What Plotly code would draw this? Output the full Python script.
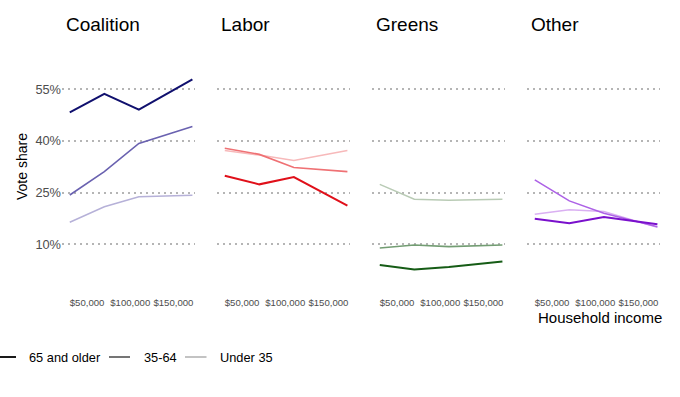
import plotly.graph_objects as go

# ---------------- data ----------------
income = [30000, 70000, 110000, 172000]
age_groups = ["65 and older", "35-64", "Under 35"]
parties = ["Coalition", "Labor", "Greens", "Other"]

coalition_65 = [48.3, 53.7, 49.1, 57.9]
coalition_35_64 = [24.3, 31.1, 39.3, 44.2]
coalition_u35 = [16.4, 20.9, 23.8, 24.2]

labor_65 = [29.9, 27.4, 29.5, 21.2]
labor_35_64 = [37.9, 36.1, 32.3, 31.1]
labor_u35 = [37.2, 35.9, 34.3, 37.2]

greens_65 = [4.0, 2.7, 3.4, 5.0]
greens_35_64 = [8.9, 9.8, 9.3, 9.8]
greens_u35 = [27.4, 23.1, 22.8, 23.1]

other_65 = [17.4, 16.1, 17.9, 15.8]
other_35_64 = [28.7, 22.6, 19.0, 15.1]
other_u35 = [18.7, 20.0, 19.5, 14.9]

y_tickvals = [10, 25, 40, 55]
y_ticktext = ["10%", "25%", "40%", "55%"]
x_tickvals = [50000, 100000, 150000]
x_ticktext = ["$50,000", "$100,000", "$150,000"]

series = {
    "Coalition": [coalition_65, coalition_35_64, coalition_u35],
    "Labor": [labor_65, labor_35_64, labor_u35],
    "Greens": [greens_65, greens_35_64, greens_u35],
    "Other": [other_65, other_35_64, other_u35],
}

# ---------------- styles ----------------
colors = {
    "Coalition": ["#10106e", "#6a62b0", "#b6b1d8"],
    "Labor": ["#e0101a", "#ef7174", "#f7b9ba"],
    "Greens": ["#165c16", "#739d73", "#b9cbb5"],
    "Other": ["#7a10cc", "#ad62e6", "#dab0f2"],
}
widths = [2.0, 1.6, 1.5]
FONT = "Liberation Sans, Arial, sans-serif"
W, H = 680, 397

panel_left = [62, 217, 372, 527]
panel_w = 133
y_top_px, y_bot_px = 65.2, 278.7
x_range = [21000, 175000]
y_range = [0, 62]

fig = go.Figure()
layout = dict(
    width=W, height=H,
    margin=dict(l=0, r=0, t=0, b=0),
    paper_bgcolor="white", plot_bgcolor="white",
    showlegend=False,
    font=dict(family=FONT, color="#000000"),
)

annotations = []
shapes = []

for i, party in enumerate(parties):
    n = "" if i == 0 else str(i + 1)
    xa, ya = "x" + n, "y" + n
    # draw lighter first so darker sits on top
    for k in [2, 1, 0]:
        fig.add_trace(go.Scatter(
            x=income, y=series[party][k], mode="lines",
            line=dict(color=colors[party][k], width=widths[k]),
            name=age_groups[k], xaxis=xa, yaxis=ya, hoverinfo="skip",
        ))
    x0 = panel_left[i] / W
    x1 = (panel_left[i] + panel_w) / W
    layout["xaxis" + n] = dict(
        domain=[x0, x1], range=x_range, anchor=ya,
        showgrid=False, zeroline=False, showline=False,
        tickmode="array", tickvals=x_tickvals, ticktext=x_ticktext,
        ticks="outside", ticklen=15, tickcolor="rgba(0,0,0,0)", tickangle=0,
        tickfont=dict(size=9.6, color="#4d4d4d", family=FONT),
        automargin=False,
    )
    layout["yaxis" + n] = dict(
        domain=[(H - y_bot_px) / H, (H - y_top_px) / H], range=y_range,
        anchor=xa,
        showgrid=True, gridcolor="#b5b5b5", gridwidth=1.5, griddash="1.5px,4.5px",
        zeroline=False, showline=False,
        tickmode="array", tickvals=y_tickvals, ticktext=y_ticktext,
        showticklabels=(i == 0),
        tickfont=dict(size=12.8, color="#4d4d4d", family=FONT),
        automargin=False,
    )
    annotations.append(dict(
        text=party, x=(panel_left[i] + 2) / W, y=(H - 25) / H,
        xref="paper", yref="paper", xanchor="left", yanchor="middle",
        showarrow=False, font=dict(size=19, color="#000000", family=FONT),
    ))

# axis titles
annotations.append(dict(
    text="Vote share", x=22 / W, y=(H - 167) / H, xref="paper", yref="paper",
    textangle=-90, xanchor="center", yanchor="middle", showarrow=False,
    font=dict(size=14, color="#000000", family=FONT),
))
annotations.append(dict(
    text="Household income", x=(panel_left[3] + panel_w / 2 + 6) / W, y=(H - 317) / H,
    xref="paper", yref="paper", xanchor="center", yanchor="middle",
    showarrow=False, font=dict(size=15, color="#000000", family=FONT),
))

# legend (drawn manually)
legend_colors = ["#000000", "#666666", "#bdbdbd"]
legend_line_x = [(-5, 16), (109, 130), (185, 206.5)]
legend_text_x = [27, 141.5, 218]
ly = (H - 357) / H
for k in range(3):
    shapes.append(dict(
        type="line", xref="paper", yref="paper",
        x0=legend_line_x[k][0] / W, x1=legend_line_x[k][1] / W, y0=ly, y1=ly,
        line=dict(color=legend_colors[k], width=1.8),
    ))
    annotations.append(dict(
        text=age_groups[k], x=legend_text_x[k] / W, y=ly, xref="paper", yref="paper",
        xanchor="left", yanchor="middle", showarrow=False,
        font=dict(size=12.8, color="#000000", family=FONT),
    ))

layout["annotations"] = annotations
layout["shapes"] = shapes
fig.update_layout(**layout)
fig.write_html(
    "out.html",
    config={"displayModeBar": False},
    post_script="document.body.style.margin='0px';document.body.style.overflow='hidden';",
)
